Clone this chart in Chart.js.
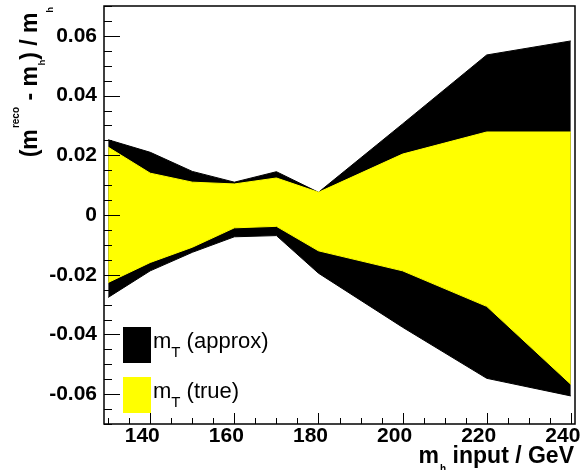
<!DOCTYPE html>
<html>
<head>
<meta charset="utf-8">
<script src="https://cdn.jsdelivr.net/npm/chart.js@4.4.0/dist/chart.umd.min.js"></script>
<style>
  html, body { margin: 0; padding: 0; background: #fff; }
</style>
</head>
<body>
<canvas id="c" width="584" height="470"></canvas>
<script>
// m_h input values (GeV)
const massPoints = [130, 140, 150, 160, 170, 180, 200, 220, 240];
// relative resolution band edges
const approxUp   = [0.0252, 0.0210, 0.0146, 0.0110, 0.0145, 0.0076, 0.0305, 0.0536, 0.0583];
const approxDown = [-0.0276, -0.0187, -0.0125, -0.0073, -0.0069, -0.0195, -0.0376, -0.0547, -0.0606];
const trueUp     = [0.0227, 0.0140, 0.0110, 0.0104, 0.0124, 0.0076, 0.0204, 0.0278, 0.0278];
const trueDown   = [-0.0226, -0.0159, -0.0108, -0.0043, -0.0038, -0.0120, -0.0187, -0.0306, -0.0567];
const xTicks = [140, 160, 180, 200, 220, 240];
const yTicks = [-0.06, -0.04, -0.02, 0, 0.02, 0.04, 0.06];
const legendSuffix = [' (approx)', ' (true)'];
const legendColors = ['#000000', '#ffff00'];

const FONT = '"Liberation Sans", Arial, sans-serif';

function band(values, color, fill, label) {
  return {
    label: label,
    data: massPoints.map((m, i) => ({ x: m, y: values[i] })),
    borderColor: color,
    backgroundColor: color,
    borderWidth: 1,
    pointRadius: 0,
    fill: fill
  };
}

// draws pieces of text one after another: [text, size, dy, bold]
function richText(ctx, parts, x, y, align) {
  let total = 0;
  const widths = parts.map(p => {
    ctx.font = (p[3] ? 'bold ' : '') + p[1] + 'px ' + FONT;
    const w = ctx.measureText(p[0]).width;
    total += w;
    return w;
  });
  let cx = align === 'right' ? x - total : x;
  parts.forEach((p, i) => {
    ctx.font = (p[3] ? 'bold ' : '') + p[1] + 'px ' + FONT;
    ctx.fillText(p[0], cx, y + p[2]);
    cx += widths[i];
  });
}

const decor = {
  id: 'decor',
  afterDraw(chart) {
    const ctx = chart.ctx;
    const a = chart.chartArea;
    const x = chart.scales.x, y = chart.scales.y;
    ctx.save();
    ctx.strokeStyle = '#000';
    ctx.fillStyle = '#000';
    ctx.lineWidth = 1;

    // tick marks, inside the frame
    for (let k = -14; k <= 14; k++) {
      const v = k * 0.005;
      if (v < y.min || v > y.max) continue;
      const py = Math.round(y.getPixelForValue(v)) + 0.5;
      const len = k % 4 === 0 ? 16 : 8;
      ctx.beginPath(); ctx.moveTo(a.left, py); ctx.lineTo(a.left + len, py); ctx.stroke();
    }
    for (let m = 130; m <= 240; m += 5) {
      const px = Math.round(x.getPixelForValue(m)) + 0.5;
      const len = m % 20 === 0 ? 11 : 6;
      ctx.beginPath(); ctx.moveTo(px, a.bottom); ctx.lineTo(px, a.bottom - len); ctx.stroke();
    }

    // frame
    ctx.lineWidth = 1.5;
    ctx.strokeRect(a.left, a.top, a.right - a.left, a.bottom - a.top);

    // axis titles
    ctx.textBaseline = 'alphabetic';
    ctx.textAlign = 'left';
    richText(ctx, [['m', 23, 0, true], [' ', 4, 0, true], ['h', 10, 9, true], [' input / GeV', 23, 0, true]], 574, 463, 'right');

    ctx.save();
    ctx.translate(37, 7);
    ctx.rotate(-Math.PI / 2);
    richText(ctx, [['(m', 23, 0, true], [' ', 4, 0, true], ['reco', 10, -18, true], [' - m', 23, 0, true],
                   [' ', 3, 0, true], ['h', 9, 8, true], [') / m', 23, 0, true], ['h', 9, 16, true]], 0, 0, 'right');
    ctx.restore();

    // legend
    legendSuffix.forEach((s, i) => {
      const top = 327 + i * 50;
      ctx.fillStyle = legendColors[i];
      ctx.fillRect(123, top, 28, 36);
      ctx.fillStyle = '#000';
      richText(ctx, [['m', 22, 0, false], ['T', 15, 9, false], [s, 22, 0, false]], 153, top + 21, 'left');
    });
    ctx.restore();
  }
};

new Chart(document.getElementById('c'), {
  type: 'line',
  data: {
    datasets: [
      band(trueUp, '#ffff00', '+1', 'mT (true)'),
      band(trueDown, '#ffff00', false, ''),
      band(approxUp, '#000000', '+1', 'mT (approx)'),
      band(approxDown, '#000000', false, '')
    ]
  },
  options: {
    responsive: false,
    animation: false,
    devicePixelRatio: 1,
    layout: { padding: { top: 6, right: 9, left: 0, bottom: 0 } },
    plugins: { legend: { display: false }, tooltip: { enabled: false } },
    elements: { line: { tension: 0 } },
    scales: {
      x: {
        type: 'linear',
        min: 129,
        max: 241,
        afterBuildTicks: s => { s.ticks = xTicks.map(v => ({ value: v })); },
        afterFit: s => { s.height = 46; s.paddingLeft = 0; s.paddingRight = 0; },
        grid: { display: false, drawTicks: false },
        border: { display: false },
        ticks: { color: '#000', padding: 0, maxRotation: 0, labelOffset: -8,
                 font: { family: FONT, size: 21, weight: 'bold' },
                 callback: v => String(v) }
      },
      y: {
        type: 'linear',
        min: -0.07,
        max: 0.07,
        afterBuildTicks: s => { s.ticks = yTicks.map(v => ({ value: v })); },
        afterFit: s => { s.width = 104; s.paddingTop = 0; s.paddingBottom = 0; },
        grid: { display: false, drawTicks: false },
        border: { display: false },
        ticks: { color: '#000', padding: 7, font: { family: FONT, size: 21, weight: 'bold' },
                 callback: v => Math.abs(v) < 1e-9 ? '0' : v.toFixed(2) }
      }
    }
  },
  plugins: [decor]
});
</script>
</body>
</html>
